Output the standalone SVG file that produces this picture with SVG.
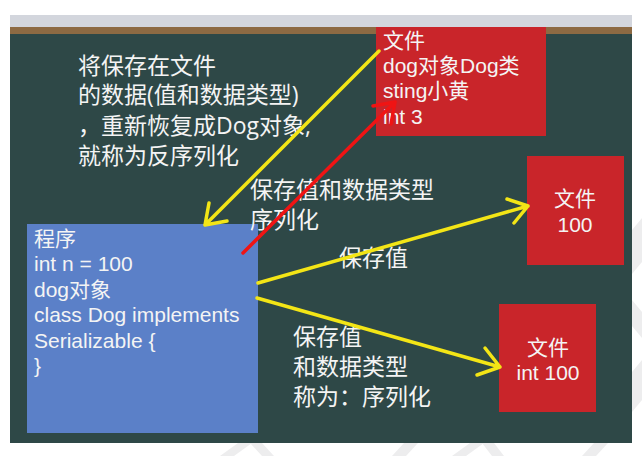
<svg xmlns="http://www.w3.org/2000/svg" width="642" height="456" viewBox="0 0 642 456">
<style>
.t{font-family:"Open Sans","Noto Sans CJK SC",sans-serif;fill:#f4f4f4}
.b{font-family:"Liberation Sans","Noto Sans CJK SC",sans-serif;fill:#f4f4f4}
.s20{font-size:21px}
.s23{font-size:23px}
.y{stroke:#f3e516;stroke-width:3.5;fill:none;stroke-linecap:round;stroke-linejoin:round}
.r{stroke:#f01414;stroke-width:3.5;fill:none;stroke-linecap:round;stroke-linejoin:round}
.wm{fill:#ededee}
</style>
<rect width="642" height="456" fill="#ffffff"/>
<g id="watermark">
<polygon class="wm" points="632,230 642,218 642,262 632,274"/>
<polygon class="wm" points="632,300 642,312 642,338 632,326"/>
<polygon class="wm" points="632,372 642,360 642,400 632,412"/>
<polygon class="wm" points="220,456 238,443 252,443 234,456"/>
<polygon class="wm" points="262,456 250,443 262,443 274,456"/>
<polygon class="wm" points="392,456 404,443 418,443 406,456"/>
<polygon class="wm" points="452,456 470,443 484,443 466,456"/>
<polygon class="wm" points="492,456 482,443 494,443 504,456"/>
<polygon class="wm" points="582,456 594,443 608,443 596,456"/>
</g>
<g id="board">
<rect x="10" y="15" width="622" height="13" fill="#d3d6dd"/>
<rect x="10" y="27" width="622" height="7" fill="#8d6a43"/>
<rect x="10" y="34" width="622" height="409" fill="#2e4847"/>
</g>
<g id="node-file-top">
<rect x="376" y="27" width="170" height="109" fill="#c9252a"/>
<text class="b s20" x="383" y="48">文件</text>
<text class="b s20" x="383" y="73">dog对象Dog类</text>
<text class="b s20" x="383" y="98">sting小黄</text>
<text class="b s20" x="383" y="124">int 3</text>
</g>
<g id="node-program">
<rect x="27" y="224" width="231" height="209" fill="#5b80c8"/>
<text class="b s20" x="34" y="246">程序</text>
<text class="b s20" x="34" y="271">int n = 100</text>
<text class="b s20" x="34" y="297">dog对象</text>
<text class="b s20" x="34" y="322">class Dog implements</text>
<text class="b s20" x="34" y="348">Serializable {</text>
<text class="b s20" x="34" y="373">}</text>
</g>
<g id="node-file-100">
<rect x="527" y="156" width="97" height="109" fill="#c9252a"/>
<text class="b s20" x="575" y="206" text-anchor="middle">文件</text>
<text class="b s20" x="575" y="232" text-anchor="middle">100</text>
</g>
<g id="node-file-int100">
<rect x="499" y="304" width="97" height="108" fill="#c9252a"/>
<text class="b s20" x="548" y="355" text-anchor="middle">文件</text>
<text class="b s20" x="548" y="380" text-anchor="middle">int 100</text>
</g>
<g id="labels">
<text class="t s23" x="78" y="74">将保存在文件</text>
<text class="t s23" x="78" y="103">的数据(值和数据类型)</text>
<text class="t s23" x="78" y="134">，重新恢复成Dog对象,</text>
<text class="t s23" x="78" y="164">就称为反序列化</text>
<text class="t s23" x="250" y="198">保存值和数据类型</text>
<text class="t s23" x="250" y="228">序列化</text>
<text class="t s23" x="339" y="266">保存值</text>
<text class="t s23" x="293" y="345">保存值</text>
<text class="t s23" x="293" y="375">和数据类型</text>
<text class="t s23" x="293" y="405">称为：序列化</text>
</g>
<g id="connectors">
<path class="y" d="M379,51 L205,225 M227,221 L205,225 L209,203"/>
<path class="r" d="M243,253 L395,102 M373,106 L395,102 L391,124"/>
<path class="y" d="M258,283 L528,206 M507,199 L528,206 L514,223"/>
<path class="y" d="M257,298 L500,367 M485,348 L500,367 L477,375"/>
</g>
</svg>
